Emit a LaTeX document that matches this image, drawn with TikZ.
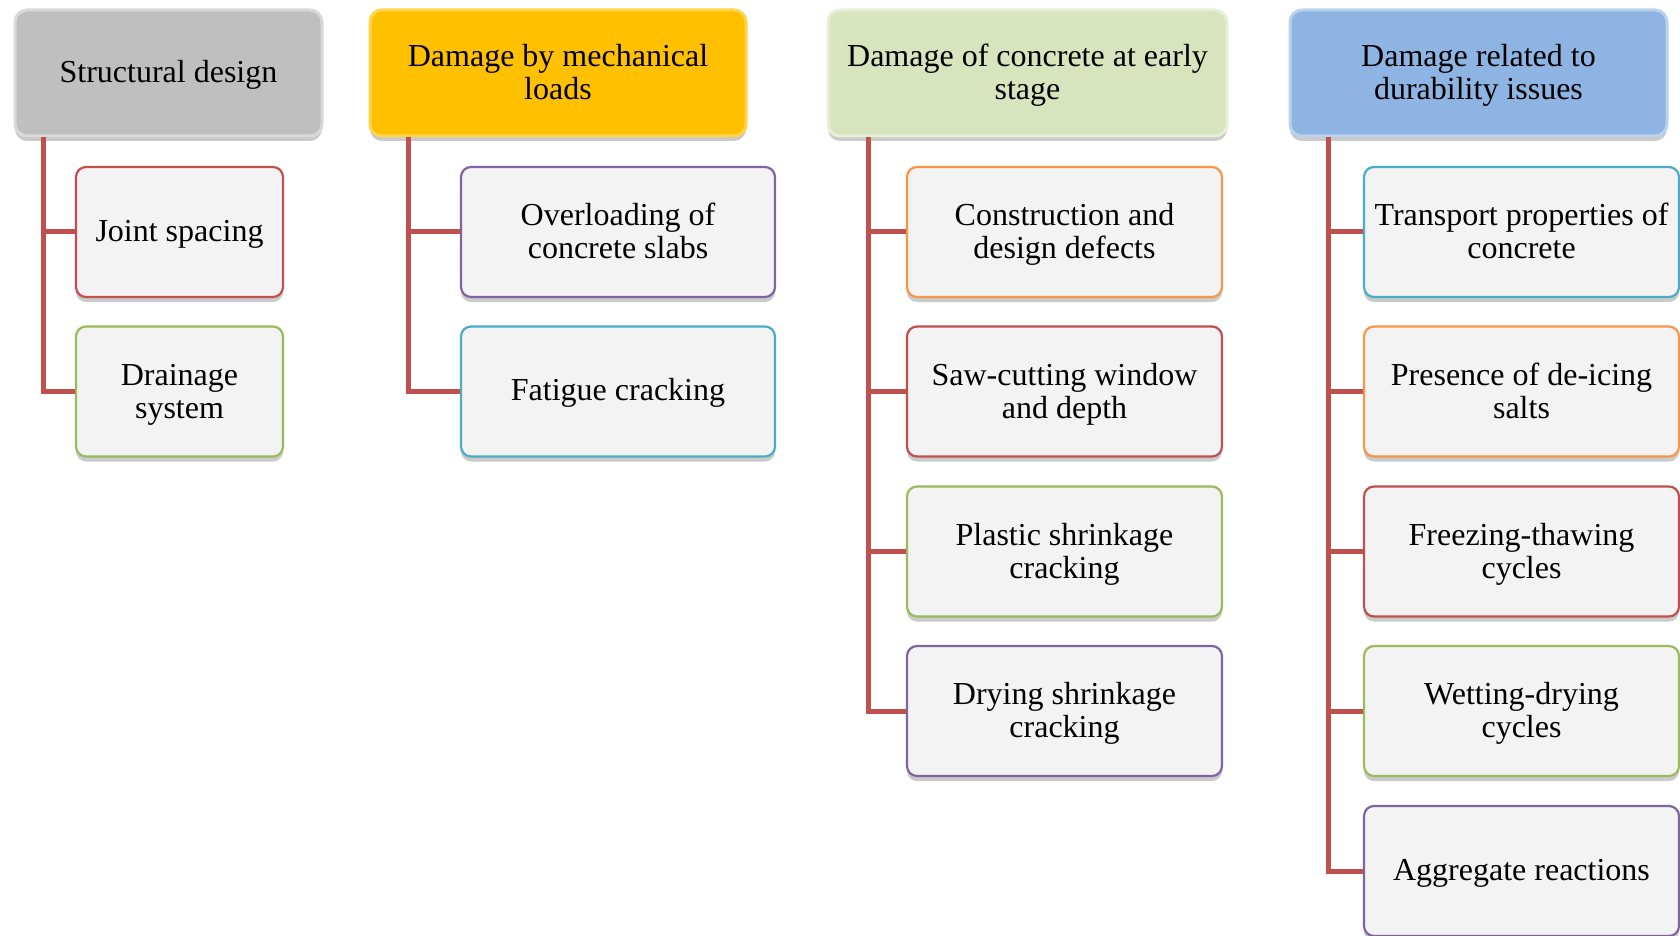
\documentclass[tikz,border=0pt]{standalone}
\usepackage{fontspec}
\setmainfont{Liberation Serif}
\usetikzlibrary{shadows}
\newcommand{\ta}{\rule{0pt}{13.7pt}}
\newcommand{\tb}{\rule[-3.6pt]{0pt}{3.6pt}}
\newcommand{\so}{\rule[-3.6pt]{0pt}{16.4pt}}
\definecolor{connred}{HTML}{C0504D}
\definecolor{cRed}{HTML}{C0504D}
\definecolor{cGreen}{HTML}{9BBB59}
\definecolor{cPurple}{HTML}{8064A2}
\definecolor{cAqua}{HTML}{4BACC6}
\definecolor{cOrange}{HTML}{F79646}
\definecolor{leaffill}{HTML}{F3F3F3}
\definecolor{hGray}{HTML}{BFBFBF}
\definecolor{hGold}{HTML}{FFC000}
\definecolor{hGreen}{HTML}{D7E4BD}
\definecolor{hBlue}{HTML}{8EB4E3}
\begin{document}
\begin{tikzpicture}[x=0.5pt,y=-0.5pt,
  txt/.style={font=\fontsize{16}{16.6}\selectfont, align=center, text=black, inner sep=1pt},
  shad/.style={drop shadow={shadow xshift=0pt, shadow yshift=-2.5pt, opacity=0.35, fill=black!60}},
  hdr/.style={txt, shad, rounded corners=6pt, minimum height=63pt, line width=1.5pt},
  leaf/.style={txt, shad, rounded corners=5pt, fill=leaffill, minimum height=65pt, line width=1.1pt},
  conn/.style={line width=2.5pt, draw=connred}]
\useasboundingbox (0,0) rectangle (1680,936);
% headers
\node[hdr, fill=hGray, draw=hGray!60!white, minimum width=153.5pt] (h1) at (168.5,73) {\so Structural design};
\node[hdr, fill=hGold, draw=hGold!70!white, minimum width=188pt] (h2) at (558,73) {\ta Damage by mechanical\\\tb loads};
\node[hdr, fill=hGreen, draw=hGreen!60!white, minimum width=199.5pt] (h3) at (1027.5,73) {\ta Damage of concrete at early\\\tb stage};
\node[hdr, fill=hBlue, draw=hBlue!60!white, minimum width=188.5pt] (h4) at (1478.5,73) {\ta Damage related to\\\tb durability issues};
% column 1
\node[leaf, draw=cRed, minimum width=103.5pt] (a1) at (179.5,232) {\so Joint spacing};
\node[leaf, draw=cGreen, minimum width=103.5pt] (a2) at (179.5,391.5) {\ta Drainage\\\tb system};
% column 2
\node[leaf, draw=cPurple, minimum width=157pt] (b1) at (618,232) {\ta Overloading of\\\tb concrete slabs};
\node[leaf, draw=cAqua, minimum width=157pt] (b2) at (618,391.5) {\so Fatigue cracking};
% column 3
\node[leaf, draw=cOrange, minimum width=157.5pt] (c1) at (1064.5,232) {\ta Construction and\\\tb design defects};
\node[leaf, draw=cRed, minimum width=157.5pt] (c2) at (1064.5,391.5) {\ta Saw-cutting window\\\tb and depth};
\node[leaf, draw=cGreen, minimum width=157.5pt] (c3) at (1064.5,551.5) {\ta Plastic shrinkage\\\tb cracking};
\node[leaf, draw=cPurple, minimum width=157.5pt] (c4) at (1064.5,711) {\ta Drying shrinkage\\\tb cracking};
% column 4
\node[leaf, draw=cAqua, minimum width=157.5pt] (d1) at (1521.5,232) {\ta Transport properties of\\\tb concrete};
\node[leaf, draw=cOrange, minimum width=157.5pt] (d2) at (1521.5,391.5) {\ta Presence of de-icing\\\tb salts};
\node[leaf, draw=cRed, minimum width=157.5pt] (d3) at (1521.5,551.5) {\ta Freezing-thawing\\\tb cycles};
\node[leaf, draw=cGreen, minimum width=157.5pt] (d4) at (1521.5,711) {\ta Wetting-drying\\\tb cycles};
\node[leaf, draw=cPurple, minimum width=157.5pt] (d5) at (1521.5,871) {\so Aggregate reactions};
% trunk x positions
\coordinate (x1) at (43.5,0);
\coordinate (x2) at (408,0);
\coordinate (x3) at (868,0);
\coordinate (x4) at (1328,0);
% connectors
\foreach \h/\x/\c in {h1/x1/a1,h1/x1/a2,h2/x2/b1,h2/x2/b2,h3/x3/c1,h3/x3/c2,h3/x3/c3,h3/x3/c4,h4/x4/d1,h4/x4/d2,h4/x4/d3,h4/x4/d4,h4/x4/d5}
  \draw[conn] (\h.south -| \x) |- (\c.west);
\end{tikzpicture}
\end{document}
